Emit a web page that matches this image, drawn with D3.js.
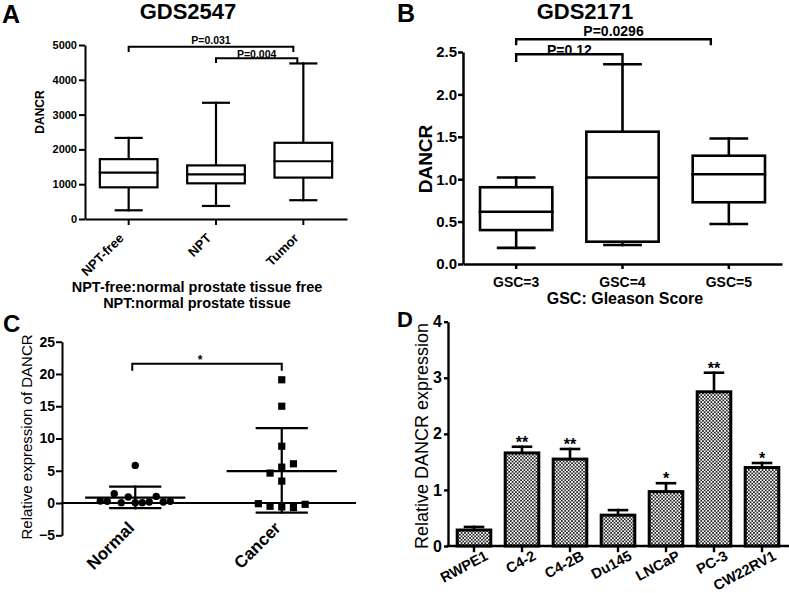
<!DOCTYPE html>
<html><head><meta charset="utf-8">
<script src="https://cdn.jsdelivr.net/npm/d3@7"></script>
<style>
body{margin:0;background:#fff;}
svg{display:block;font-family:"Liberation Sans",Arial,Helvetica,sans-serif;}
</style></head><body>
<svg id="chart" width="789" height="593"></svg>
<script>
// ---------------- DATA ----------------
// Panel A: GDS2547 box plots
const aCategories = ["NPT-free", "NPT", "Tumor"];
const aMin    = [250, 375, 540];
const aQ1     = [910, 1025, 1190];
const aMedian = [1330, 1285, 1660];
const aQ3     = [1720, 1540, 2190];
const aMax    = [2330, 3340, 4470];
const aTicks  = [0, 1000, 2000, 3000, 4000, 5000];
const aBrackets = [
  {from: "NPT-free", to: "Tumor", level: 4950, drop: 150, label: "P=0.031"},
  {from: "NPT", to: "Tumor", level: 4620, drop: 135, label: "P=0.004"}
];

// Panel B: GDS2171 box plots
const bCategories = ["GSC=3", "GSC=4", "GSC=5"];
const bMin    = [0.19, 0.224, 0.472];
const bQ1     = [0.40, 0.263, 0.728];
const bMedian = [0.617, 1.02, 1.058];
const bQ3     = [0.905, 1.56, 1.277];
const bMax    = [1.02, 2.355, 1.48];
const bTicks  = [0, 0.5, 1.0, 1.5, 2.0, 2.5];
const bBrackets = [
  {from: "GSC=3", to: "GSC=5", level: 2.65, drop: 0.07, label: "P=0.0296"},
  {from: "GSC=3", to: "GSC=4", level: 2.473, drop: 0.09, label: "P=0.12"}
];

// Panel C: scatter with mean ± SD
const cCategories = ["Normal", "Cancer"];
const normalValues = [0.3, 0.26, 1.45, 0.06, 0.93, 5.83, 0.06, 0.06, 0.15, 1.03, 0.15, 0.26];
const cancerValues = [19.1, 15.0, 8.8, 4.64, 5.56, 6.08, 3.4, -0.1, -0.5, -0.6, -0.7, -0.2];
const cMean    = [0.83, 4.95];
const cSdUpper = [2.55, 11.6];
const cSdLower = [-0.8, -1.48];
const cTicks   = [-5, 0, 5, 10, 15, 20, 25];
const cBracket = {level: 21.6, drop: 1.1, label: "*"};

// Panel D: bar chart with SEM
const dCategories = ["RWPE1", "C4-2", "C4-2B", "Du145", "LNCaP", "PC-3", "CW22RV1"];
const dValues = [0.285, 1.66, 1.55, 0.55, 0.97, 2.75, 1.40];
const dErrors = [0.055, 0.11, 0.18, 0.09, 0.15, 0.34, 0.08];
const dStars  = ["", "**", "**", "", "*", "**", "*"];
const dTicks  = [0, 1, 2, 3, 4];

// ---------------- HELPERS ----------------
const FONT = '"Liberation Sans", Arial, Helvetica, sans-serif';
const svg = d3.select("#chart");
svg.append("rect").attr("width", 789).attr("height", 593).attr("fill", "#fff");

function addText(g, x, y, str, size, weight, anchor, rotate) {
  const t = g.append("text")
    .attr("transform", `translate(${x},${y})` + (rotate ? ` rotate(${rotate})` : ""))
    .attr("text-anchor", anchor || "middle")
    .attr("fill", "#000")
    .style("font-family", FONT)
    .style("font-size", size + "px")
    .style("font-weight", weight || "bold")
    .text(str);
  return t;
}
function styleAxis(g, sw, fs, weight) {
  g.select(".domain").attr("stroke", "#000").attr("stroke-width", sw).attr("fill", "none");
  g.selectAll(".tick line").attr("stroke", "#000").attr("stroke-width", sw);
  g.selectAll(".tick text").attr("fill", "#000")
    .style("font-size", fs + "px").style("font-weight", weight).style("font-family", FONT);
}
function line(g, x1, y1, x2, y2, sw) {
  g.append("line").attr("x1", x1).attr("y1", y1).attr("x2", x2).attr("y2", y2)
    .attr("stroke", "#000").attr("stroke-width", sw).attr("stroke-linecap", "square");
}
function boxPlot(g, cats, mins, q1s, meds, q3s, maxs, x, y, boxFrac, capFrac, sw) {
  cats.forEach((c, i) => {
    const cx = x(c) + x.bandwidth() / 2;
    const bw = x.bandwidth() * boxFrac, cw = bw * capFrac;
    line(g, cx, y(maxs[i]), cx, y(q3s[i]), sw);
    line(g, cx, y(q1s[i]), cx, y(mins[i]), sw);
    line(g, cx - cw / 2, y(maxs[i]), cx + cw / 2, y(maxs[i]), sw);
    line(g, cx - cw / 2, y(mins[i]), cx + cw / 2, y(mins[i]), sw);
    g.append("rect").attr("x", cx - bw / 2).attr("y", y(q3s[i]))
      .attr("width", bw).attr("height", y(q1s[i]) - y(q3s[i]))
      .attr("fill", "#fff").attr("stroke", "#000").attr("stroke-width", sw);
    line(g, cx - bw / 2, y(meds[i]), cx + bw / 2, y(meds[i]), sw);
  });
}
function bracket(g, x1, x2, yTop, yDrop1, yDrop2, sw) {
  g.append("path").attr("d", `M${x1},${yDrop1}V${yTop}H${x2}V${yDrop2}`)
    .attr("fill", "none").attr("stroke", "#000").attr("stroke-width", sw);
}

// ---------------- PANEL A ----------------
{
  const g = svg.append("g");
  const y = d3.scaleLinear().domain([0, 5000]).range([219, 45]);
  const x = d3.scaleBand().domain(aCategories).range([85, 347]);
  const cx = c => x(c) + x.bandwidth() / 2;
  const ya = g.append("g").attr("transform", "translate(85,0)")
    .call(d3.axisLeft(y).tickValues(aTicks).tickSize(6).tickSizeOuter(0).tickPadding(2).tickFormat(d3.format("d")));
  styleAxis(ya, 2, 11, "bold");
  const xa = g.append("g").attr("transform", "translate(0,219)")
    .call(d3.axisBottom(x).tickSize(6).tickSizeOuter(0).tickFormat(""));
  styleAxis(xa, 2, 11, "bold");
  boxPlot(g, aCategories, aMin, aQ1, aMedian, aQ3, aMax, x, y, 0.66, 0.45, 2.2);
  aCategories.forEach(c => addText(g, cx(c) - 4, 239, c, 13, "bold", "end", -45));
  aBrackets.forEach(b => {
    const x1 = cx(b.from), x2 = cx(b.to) - (b.from === "NPT-free" ? 10 : 6);
    bracket(g, x1, x2, y(b.level), y(b.level - b.drop), y(b.level - b.drop), 2);
    addText(g, (x1 + x2) / 2, b.from === "NPT-free" ? 43.5 : 58, b.label, 10.5, "bold");
  });
  addText(g, 43.5, 112, "DANCR", 12, "bold", "middle", -90);
  addText(g, 2, 23, "A", 25, "bold", "start");
  addText(g, 188, 18.5, "GDS2547", 22, "bold");
  addText(g, 197, 292, "NPT-free:normal prostate tissue free", 14.5, "bold");
  addText(g, 197, 308, "NPT:normal prostate tissue", 14.5, "bold");
}

// ---------------- PANEL B ----------------
{
  const g = svg.append("g");
  const y = d3.scaleLinear().domain([0, 2.5]).range([264, 52]);
  const x = d3.scaleBand().domain(bCategories).range([463, 782]);
  const cx = c => x(c) + x.bandwidth() / 2;
  const ya = g.append("g").attr("transform", "translate(463,0)")
    .call(d3.axisLeft(y).tickValues(bTicks).tickSize(5).tickSizeOuter(0).tickPadding(1).tickFormat(d3.format(".1f")));
  styleAxis(ya, 2.5, 15, "bold");
  const xa = g.append("g").attr("transform", "translate(0,264)")
    .call(d3.axisBottom(x).tickSize(5).tickSizeOuter(0).tickFormat(""));
  styleAxis(xa, 2.5, 14, "bold");
  boxPlot(g, bCategories, bMin, bQ1, bMedian, bQ3, bMax, x, y, 0.68, 0.5, 2.6);
  bCategories.forEach(c => addText(g, cx(c), 287, c, 14, "bold"));
  bBrackets.forEach(b => {
    const x1 = cx(b.from), x2 = cx(b.to) - (b.to === "GSC=5" ? 18 : 0);
    const d2 = b.to === "GSC=4" ? y(bMax[1]) : y(b.level - b.drop);
    bracket(g, x1, x2, y(b.level), y(b.level - b.drop), d2, 2.4);
    addText(g, (x1 + x2) / 2, b.to === "GSC=5" ? 35.5 : 55, b.label, 14, "bold");
  });
  addText(g, 432, 159, "DANCR", 19, "bold", "middle", -90);
  addText(g, 397, 22, "B", 25, "bold", "start");
  addText(g, 585, 18.5, "GDS2171", 22, "bold");
  addText(g, 625, 304, "GSC: Gleason Score", 16, "bold");
}

// ---------------- PANEL C ----------------
{
  const g = svg.append("g");
  const y = d3.scaleLinear().domain([-5, 25]).range([535.3, 341.7]);
  const x = d3.scaleBand().domain(cCategories).range([62, 355]);
  const cx = c => x(c) + x.bandwidth() / 2;
  const ya = g.append("g").attr("transform", "translate(62,0)")
    .call(d3.axisLeft(y).tickValues(cTicks).tickSize(6).tickSizeOuter(0).tickPadding(1));
  styleAxis(ya, 2, 14, "bold");
  line(g, 62, y(0), 355, y(0), 2);

  // simple dodge: points closer than symbol size share a row and are spread horizontally
  function dodge(values, center, maxSpan, maxStep) {
    const order = values.map((v, i) => i).sort((a, b) => values[a] - values[b]);
    const groups = [];
    order.forEach(i => {
      const last = groups[groups.length - 1];
      if (last && Math.abs(y(values[i]) - y(values[last[last.length - 1]])) < 7) last.push(i);
      else groups.push([i]);
    });
    const xs = new Array(values.length);
    groups.forEach(gr => {
      gr.sort((a, b) => a - b);
      const n = gr.length;
      const step = n > 1 ? Math.min(maxStep, maxSpan / (n - 1)) : 0;
      gr.forEach((idx, k) => xs[idx] = center + (k - (n - 1) / 2) * step);
    });
    return xs;
  }
  const nx = dodge(normalValues, cx("Normal"), 70, 11.7);
  const kx = dodge(cancerValues, cx("Cancer"), 70, 11.7);

  [0, 1].forEach(i => {
    const c = cx(cCategories[i]);
    const mh = i === 0 ? 49 : 54, ch = 25;
    line(g, c, y(cSdUpper[i]), c, y(cSdLower[i]), 2.2);
    line(g, c - ch, y(cSdUpper[i]), c + ch, y(cSdUpper[i]), 2.2);
    line(g, c - ch, y(cSdLower[i]), c + ch, y(cSdLower[i]), 2.2);
    line(g, c - mh, y(cMean[i]), c + mh, y(cMean[i]), 2.2);
  });
  normalValues.forEach((v, i) => {
    g.append("circle").attr("cx", nx[i]).attr("cy", y(v)).attr("r", 3.7).attr("fill", "#000");
  });
  cancerValues.forEach((v, i) => {
    g.append("rect").attr("x", kx[i] - 3.6).attr("y", y(v) - 3.6).attr("width", 7.2).attr("height", 7.2).attr("fill", "#000");
  });
  cCategories.forEach(c => addText(g, cx(c), 529, c, 17, "bold", "end", -45));
  const bx1 = cx("Normal") - 3, bx2 = cx("Cancer");
  bracket(g, bx1, bx2, y(cBracket.level), y(cBracket.level - cBracket.drop), y(cBracket.level - cBracket.drop), 2);
  addText(g, (bx1 + bx2) / 2 - 7, 364, cBracket.label, 12, "bold");
  addText(g, 31.5, 437, "Relative expression of DANCR", 15, "normal", "middle", -90);
  addText(g, 3, 332, "C", 24, "bold", "start");
}

// ---------------- PANEL D ----------------
{
  const g = svg.append("g");
  const defs = svg.append("defs");
  const pat = defs.append("pattern").attr("id", "checker").attr("patternUnits", "userSpaceOnUse")
    .attr("width", 3.4).attr("height", 3.4);
  pat.append("rect").attr("width", 3.4).attr("height", 3.4).attr("fill", "#fff");
  pat.append("rect").attr("width", 1.7).attr("height", 1.7).attr("fill", "#222");
  pat.append("rect").attr("x", 1.7).attr("y", 1.7).attr("width", 1.7).attr("height", 1.7).attr("fill", "#222");

  const y = d3.scaleLinear().domain([0, 4]).range([546, 321.7]);
  const x = d3.scaleBand().domain(dCategories).range([450, 786]).paddingInner(0.3).paddingOuter(0.15);
  const cx = c => x(c) + x.bandwidth() / 2;
  const ya = g.append("g").attr("transform", "translate(448,0)")
    .call(d3.axisLeft(y).tickValues(dTicks).tickSize(4).tickSizeOuter(0).tickPadding(2).tickFormat(d3.format("d")));
  styleAxis(ya, 2.4, 16, "bold");

  dCategories.forEach((c, i) => {
    const xc = cx(c), cap = 9;
    const top = y(dValues[i] + dErrors[i]);
    line(g, xc, y(dValues[i]), xc, top, 2.6);
    line(g, xc - cap, top, xc + cap, top, 2.6);
    g.append("rect").attr("x", x(c)).attr("y", y(dValues[i]))
      .attr("width", x.bandwidth()).attr("height", y(0) - y(dValues[i]))
      .attr("fill", "url(#checker)").attr("stroke", "#000").attr("stroke-width", 3);
    if (dStars[i]) addText(g, xc, top + 1, dStars[i], 16, "bold");
    line(g, xc, y(0), xc, y(0) + 5, 2.4);
    addText(g, xc + 15, 559, c, 14.5, "bold", "end", -28);
  });
  line(g, 448, y(0), 788, y(0), 2.4);
  addText(g, 428, 436, "Relative DANCR expression", 18, "normal", "middle", -90);
  addText(g, 397, 327, "D", 22, "bold", "start");
}
</script>
</body></html>
